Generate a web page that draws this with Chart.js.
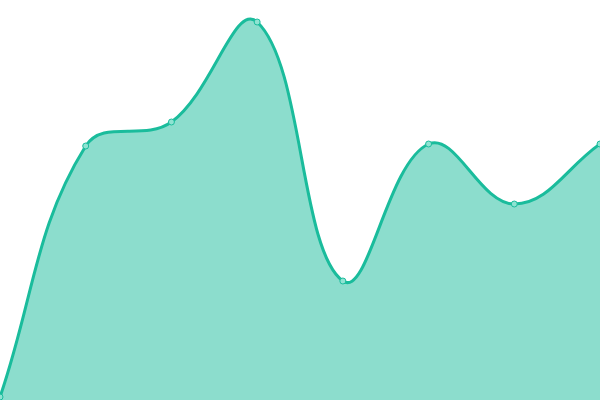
<!DOCTYPE html>
<html>
<head>
<meta charset="utf-8">
<script src="https://cdn.jsdelivr.net/npm/chart.js@4"></script>
<style>
    html, body { margin: 0; padding: 0; background: #fff; }
    #wrap { width: 600px; height: 400px; }
</style>
</head>
<body>
<div id="wrap"><canvas id="myChart"></canvas></div>
<script>
const labels = ["1", "2", "3", "4", "5", "6", "7", "8"];
const values = [3, 254, 278, 378, 119, 256, 196, 256];

const ctx = document.getElementById("myChart").getContext("2d");
const myChart = new Chart(ctx, {
    type: "line",
    data: {
        labels: labels,
        datasets: [
            {
                data: values,
                fill: true,
                tension: 0.4,
                borderColor: "#1abc9c",
                backgroundColor: "rgba(26, 188, 156, 0.5)",
                borderWidth: 3,
                pointRadius: 3,
                pointBorderWidth: 1,
                pointBackgroundColor: "#8fe3d2",
                pointBorderColor: "#1abc9c"
            }
        ]
    },
    options: {
        responsive: true,
        maintainAspectRatio: false,
        animation: false,
        layout: { padding: 0, autoPadding: false },
        plugins: {
            legend: { display: false },
            tooltip: { enabled: false }
        },
        scales: {
            x: { display: false },
            y: { display: false, min: 0, max: 400 }
        }
    }
});
</script>
</body>
</html>
